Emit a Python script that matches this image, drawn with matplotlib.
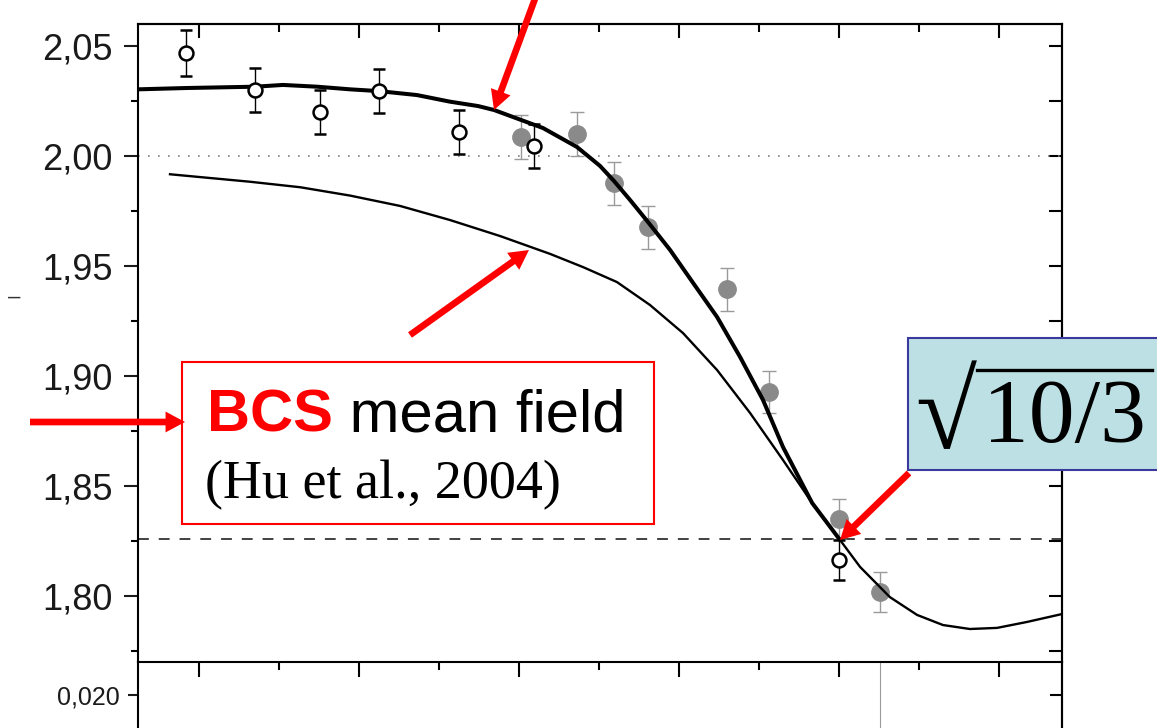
import matplotlib.pyplot as plt
from matplotlib.patches import Rectangle, FancyArrowPatch
from matplotlib.lines import Line2D
from matplotlib.ticker import MultipleLocator, FuncFormatter, NullFormatter, FixedLocator

plt.rcParams['font.family'] = ['Liberation Sans', 'DejaVu Sans']

# measured points, open symbols (black error bars)
open_x = [-2.041, -1.825, -1.622, -1.438, -1.188, -0.953, 0.0]
open_y = [2.047, 2.030, 2.020, 2.0295, 2.011, 2.0045, 1.8164]
open_err = [0.0105, 0.010, 0.010, 0.010, 0.010, 0.010, 0.009]

# measured points, filled grey symbols
fill_x = [-0.994, -0.819, -0.703, -0.597, -0.350, -0.219, 0.0, 0.128]
fill_y = [2.0086, 2.010, 1.9877, 1.9677, 1.9395, 1.8927, 1.835, 1.8018]
fill_err = [0.010, 0.010, 0.0098, 0.0098, 0.0098, 0.0095, 0.009, 0.009]

# theory curve (thick)
thick_x = [-2.191, -2.041, -1.825, -1.738, -1.631, -1.528, -1.438, -1.319, -1.216,
           -1.128, -1.078, -0.925, -0.819, -0.747, -0.703, -0.653, -0.597, -0.528,
           -0.456, -0.381, -0.309, -0.2375, -0.175, -0.084, 0.003]
thick_y = [2.0303, 2.0309, 2.0315, 2.0323, 2.0315, 2.0303, 2.0295, 2.0277, 2.0247,
           2.0227, 2.0209, 2.0127, 2.0041, 1.9955, 1.9886, 1.980, 1.970, 1.9573,
           1.9423, 1.9268, 1.9086, 1.8891, 1.8677, 1.8423, 1.8255]

# BCS mean field curve (thin)
thin_x = [-2.091, -1.841, -1.684, -1.528, -1.372, -1.216, -1.059, -0.903, -0.800,
          -0.694, -0.591, -0.4875, -0.381, -0.278, -0.175, -0.084, 0.003, 0.066,
          0.159, 0.244, 0.325, 0.409, 0.494, 0.5875, 0.697]
thin_y = [1.9917, 1.9883, 1.9858, 1.9820, 1.9773, 1.9709, 1.9636, 1.9555, 1.9495,
          1.9427, 1.9323, 1.9195, 1.9027, 1.8832, 1.8618, 1.8423, 1.8255, 1.8132,
          1.7995, 1.7914, 1.7868, 1.785, 1.7855, 1.7882, 1.7918]

bec_limit = 2.0
bcs_limit = 1.8257  # sqrt(10/3)
lower_line_x = 0.128

W, H = 1157, 728
fig = plt.figure(figsize=(W / 100, H / 100), dpi=100)


def fx(px):
    return px / W


def fy(py):
    return 1 - py / H


comma = FuncFormatter(lambda v, p: f'{v:.2f}'.replace('.', ','))
comma3 = FuncFormatter(lambda v, p: f'{v:.3f}'.replace('.', ','))

# lower panel (mostly cut off)
ax2 = fig.add_axes([fx(138), fy(900), fx(1062) - fx(138), fy(662) - fy(900)])
ax2.set_xlim(-2.191, 0.697)
ax2.set_ylim(0.00719, 0.02206)
ax2.yaxis.set_major_locator(FixedLocator([0.020]))
ax2.yaxis.set_major_formatter(comma3)
ax2.tick_params(axis='y', direction='out', length=7, width=1.5, labelsize=18,
                pad=6, colors='#1a1a1a')
ax2.tick_params(axis='x', bottom=False, labelbottom=False)
ax2.spines['top'].set_visible(False)
for s in ['left', 'right']:
    ax2.spines[s].set_linewidth(1.5)
ax2.axvline(lower_line_x, color='#9a9a9a', lw=0.8)
sec2 = ax2.secondary_yaxis('right')
sec2.yaxis.set_major_locator(FixedLocator([0.020]))
sec2.yaxis.set_major_formatter(NullFormatter())
sec2.tick_params(direction='in', length=9, width=1.5)
sec2.spines['right'].set_linewidth(1.5)

# main panel
ax = fig.add_axes([fx(138), fy(662), fx(1062) - fx(138), fy(24) - fy(662)])
ax.set_xlim(-2.191, 0.697)
ax.set_ylim(1.77, 2.06)

ax.axhline(bec_limit, color='#808080', lw=1.2, ls=(0, (1, 5)), zorder=1)
ax.axhline(bcs_limit, color='#333333', lw=1.3, ls=(0, (6, 5.5)), zorder=1)

ax.errorbar(fill_x, fill_y, yerr=fill_err, fmt='o', ms=12.5, color='#8a8a8a',
            ecolor='#9a9a9a', elinewidth=1, capsize=5, capthick=1, zorder=2)
ax.plot(thin_x, thin_y, color='black', lw=1.7, zorder=3)
ax.plot(thick_x, thick_y, color='black', lw=2.9, zorder=3)
ax.errorbar(open_x, open_y, yerr=open_err, fmt='o', ms=10, mfc='white',
            mec='black', mew=1.8, ecolor='black', elinewidth=1, capsize=4.5,
            capthick=1, zorder=4)

ax.yaxis.set_major_locator(MultipleLocator(0.05))
ax.yaxis.set_minor_locator(MultipleLocator(0.025))
ax.yaxis.set_major_formatter(comma)
ax.tick_params(axis='y', which='major', direction='out', length=10, width=1.5,
               labelsize=26, pad=8, colors='#1a1a1a')
ax.tick_params(axis='y', which='minor', direction='out', length=5, width=1.5)
ax.xaxis.set_major_locator(MultipleLocator(0.5))
ax.xaxis.set_minor_locator(MultipleLocator(0.25))
ax.tick_params(axis='x', which='major', direction='out', length=11, width=1.5,
               labelbottom=False)
ax.tick_params(axis='x', which='minor', direction='out', length=6, width=1.5)
for s in ax.spines.values():
    s.set_linewidth(1.5)

secx = ax.secondary_xaxis('top')
secx.xaxis.set_major_locator(MultipleLocator(0.5))
secx.xaxis.set_minor_locator(MultipleLocator(0.25))
secx.xaxis.set_major_formatter(NullFormatter())
secx.tick_params(which='major', direction='in', length=10, width=1.5)
secx.tick_params(which='minor', direction='in', length=6, width=1.5)
secx.spines['top'].set_linewidth(1.5)

secy = ax.secondary_yaxis('right')
secy.yaxis.set_major_locator(MultipleLocator(0.025))
secy.yaxis.set_major_formatter(NullFormatter())
secy.tick_params(direction='in', length=9.5, width=1.5)
secy.spines['right'].set_linewidth(1.5)

# cut-off axis label
fig.text(fx(14), fy(297), '–', fontsize=16, ha='center', va='center', color='#333333')

# annotation boxes
fig.add_artist(Rectangle((fx(182), fy(524)), fx(654) - fx(182), fy(362) - fy(524),
                         transform=fig.transFigure, fc='white', ec='red', lw=1.5,
                         zorder=4))
fig.add_artist(Rectangle((fx(908), fy(470)), fx(1160) - fx(908), fy(338) - fy(470),
                         transform=fig.transFigure, fc='#bde0e4', ec='#3a3a9e', lw=1.5,
                         zorder=4))

t1 = fig.text(fx(207), fy(432), 'BCS', color='red', fontweight='bold', fontsize=43,
              va='baseline', ha='left', zorder=6)
renderer = fig.canvas.get_renderer()
bb = t1.get_window_extent(renderer)
fig.text(bb.x1 / W, fy(432), ' mean field', color='black', fontsize=43,
         va='baseline', ha='left', zorder=6)
serif = ['Liberation Serif', 'DejaVu Serif']
fig.text(fx(205), fy(498), '(Hu et al., 2004)', family=serif,
         fontsize=39, va='baseline', ha='left', zorder=6)

# sqrt(10/3) label: radical sign, bar and fraction
fig.text(fx(915), fy(448), '√', family=serif, fontsize=80, va='baseline', ha='left',
         zorder=6)
fig.text(fx(983), fy(442), '10/3', family=serif, fontsize=66, va='baseline', ha='left',
         zorder=6)
fig.add_artist(Line2D([fx(977), fx(1152)], [fy(370), fy(370)], transform=fig.transFigure,
                      color='black', lw=2.4, zorder=6))

# red arrows
arrows = [((536, -4), (494, 110)),
          ((410, 335), (529, 250)),
          ((30, 422), (185, 422)),
          ((909, 473), (840, 540))]
for (x0, y0), (x1, y1) in arrows:
    fig.add_artist(FancyArrowPatch((fx(x0), fy(y0)), (fx(x1), fy(y1)),
                                   transform=fig.transFigure,
                                   arrowstyle='simple,head_length=0.7,head_width=0.75,tail_width=0.24',
                                   mutation_scale=20, color='red', lw=0,
                                   shrinkA=0, shrinkB=0, zorder=7))

fig.savefig('out.png', dpi=100)
